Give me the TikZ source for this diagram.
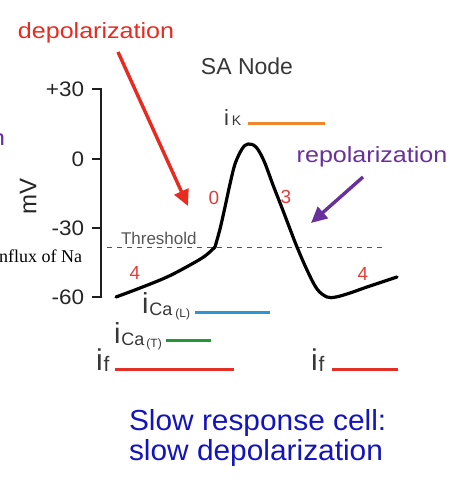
\documentclass[tikz,border=0pt]{standalone}
\usepackage{fontspec}
\usepackage{graphicx}
\setmainfont{Liberation Sans}
\newfontfamily\serifnf{Liberation Serif}
\usetikzlibrary{arrows.meta}
\definecolor{labred}{RGB}{232,42,32}
\definecolor{numred}{RGB}{226,62,58}
\definecolor{labpurple}{RGB}{104,48,156}
\definecolor{axisgray}{RGB}{30,30,30}
\definecolor{txtgray}{RGB}{55,55,55}
\definecolor{thrgray}{RGB}{85,85,85}
\definecolor{ikorange}{RGB}{240,135,45}
\definecolor{calblue}{RGB}{45,150,210}
\definecolor{catgreen}{RGB}{35,150,55}
\definecolor{ifred}{RGB}{226,48,40}
\definecolor{capblue}{RGB}{20,20,190}
\newcommand{\fs}[1]{\fontsize{#1}{#1}\selectfont}
\tikzset{
  lbl/.style={inner sep=0pt, outer sep=0pt},
  ticklbl/.style={lbl, anchor=east, font=\fs{21}, text=black!85},
  phase/.style={lbl, font=\fs{19}, text=numred},
  curr/.style={line width=3pt},
  bigarrow/.style={line width=3.4pt, -{Triangle[length=16pt,width=15pt]}},
  axisline/.style={line width=2.2pt, axisgray},
}
\begin{document}
\begin{tikzpicture}[x=1pt,y=-1pt]
\useasboundingbox (0,0) rectangle (471,500);

% axis
\draw[axisline] (92,89) -- (101,89) -- (101,297) -- (92,297);
\draw[axisline] (92,159) -- (101,159) (92,228) -- (101,228);
\node[ticklbl] (t30) at (84,89) {\scalebox{1.07}[1]{+30}};
\node[ticklbl] (t0) at (84,159) {\scalebox{1.07}[1]{0}};
\node[ticklbl] (tm30) at (84,228) {\scalebox{1.07}[1]{-30}};
\node[ticklbl] (tm60) at (84,297) {\scalebox{1.07}[1]{-60}};
\node[lbl, rotate=90, font=\fs{24}, text=black!85] (mv) at (28,196) {mV};

% threshold
\draw[thrgray, line width=1pt, dash pattern=on 5pt off 5pt] (107,247) -- (386,247);
\node[lbl, anchor=base west, font=\fs{17}, text=thrgray] (thr) at (121,244) {Threshold};

% action potential
\draw[line width=3.2pt, line join=round, line cap=round]
  plot[smooth, tension=0.6] coordinates {(116,297) (140,288) (167,277) (190,265) (205,256) (215,247)}
  -- plot[smooth, tension=0.55] coordinates {(215,247) (220,229) (225,207) (230,184) (235,164) (242,149) (248,144) (256,147) (264,161) (273,185) (282,208) (290,229) (297,247) (307,270) (317,289) (327,297) (336,297) (350,293) (367,287) (397,277)};

% phase numbers
\node[phase] (p0) at (214,198) {0};
\node[phase] (p3) at (286,197) {3};
\node[phase] (p4a) at (135,273) {4};
\node[phase] (p4b) at (363,274) {4};

% labels and arrows
\node[lbl, font=\fs{22}, text=labred] (dep) at (96,33) {\scalebox{1.14}[1]{depolarization}};
\coordinate (depfrom) at (118,52);
\coordinate (depto) at (188,206);
\draw[bigarrow, labred] (depfrom) -- (depto);

\node[lbl, font=\fs{22}, text=labpurple] (rep) at (372,157) {\scalebox{1.14}[1]{repolarization}};
\coordinate (repfrom) at (363,177);
\coordinate (repto) at (311,223);
\draw[bigarrow, labpurple] (repfrom) -- (repto);

\node[lbl, font=\fs{23}, text=txtgray] (sa) at (247,66) {SA Node};

\node[lbl, anchor=base east, font=\fs{22}, text=labpurple] (cutn) at (5,145) {\scalebox{1.14}[1]{n}};
\node[lbl, anchor=base east, font=\serifnf\fs{18}] (influx) at (82,262) {nflux of Na};

% currents
\node[lbl, anchor=base west, text=txtgray] (ik) at (224,125) {\fs{22}i\kern3pt\fs{14}K};
\coordinate (ika) at (248,123); \coordinate (ikb) at (325,123);
\draw[curr, ikorange] (ika) -- (ikb);

\node[lbl, anchor=base west, text=txtgray] (ical) at (142,313) {\fs{29}i\kern1pt\raisebox{-2pt}{\fs{18}Ca}\kern3pt\raisebox{-4pt}{\fs{12}(L)}};
\coordinate (cala) at (195,312); \coordinate (calb) at (270,312);
\draw[curr, calblue] (cala) -- (calb);

\node[lbl, anchor=base west, text=txtgray] (icat) at (114,343) {\fs{29}i\kern1pt\raisebox{-2pt}{\fs{18}Ca}\kern2pt\raisebox{-4pt}{\fs{12}(T)}};
\coordinate (cata) at (166,340); \coordinate (catb) at (211,340);
\draw[curr, catgreen] (cata) -- (catb);

\node[lbl, anchor=base west, text=txtgray] (ifl) at (96,370) {\fs{30}i\kern1pt\raisebox{-1pt}{\fs{21}f}};
\coordinate (ifla) at (115,369); \coordinate (iflb) at (234,369);
\draw[curr, ifred] (ifla) -- (iflb);

\node[lbl, anchor=base west, text=txtgray] (ifr) at (311,370) {\fs{30}i\kern1pt\raisebox{-1pt}{\fs{21}f}};
\coordinate (ifra) at (332,369); \coordinate (ifrb) at (398,369);
\draw[curr, ifred] (ifra) -- (ifrb);

% caption
\node[lbl, anchor=base west, font=\fs{29}, text=capblue] (cap1) at (129,430) {\scalebox{1.03}[1]{Slow response cell:}};
\node[lbl, anchor=base west, font=\fs{29}, text=capblue] (cap2) at (129,460) {\scalebox{1.03}[1]{slow depolarization}};
\end{tikzpicture}
\end{document}
